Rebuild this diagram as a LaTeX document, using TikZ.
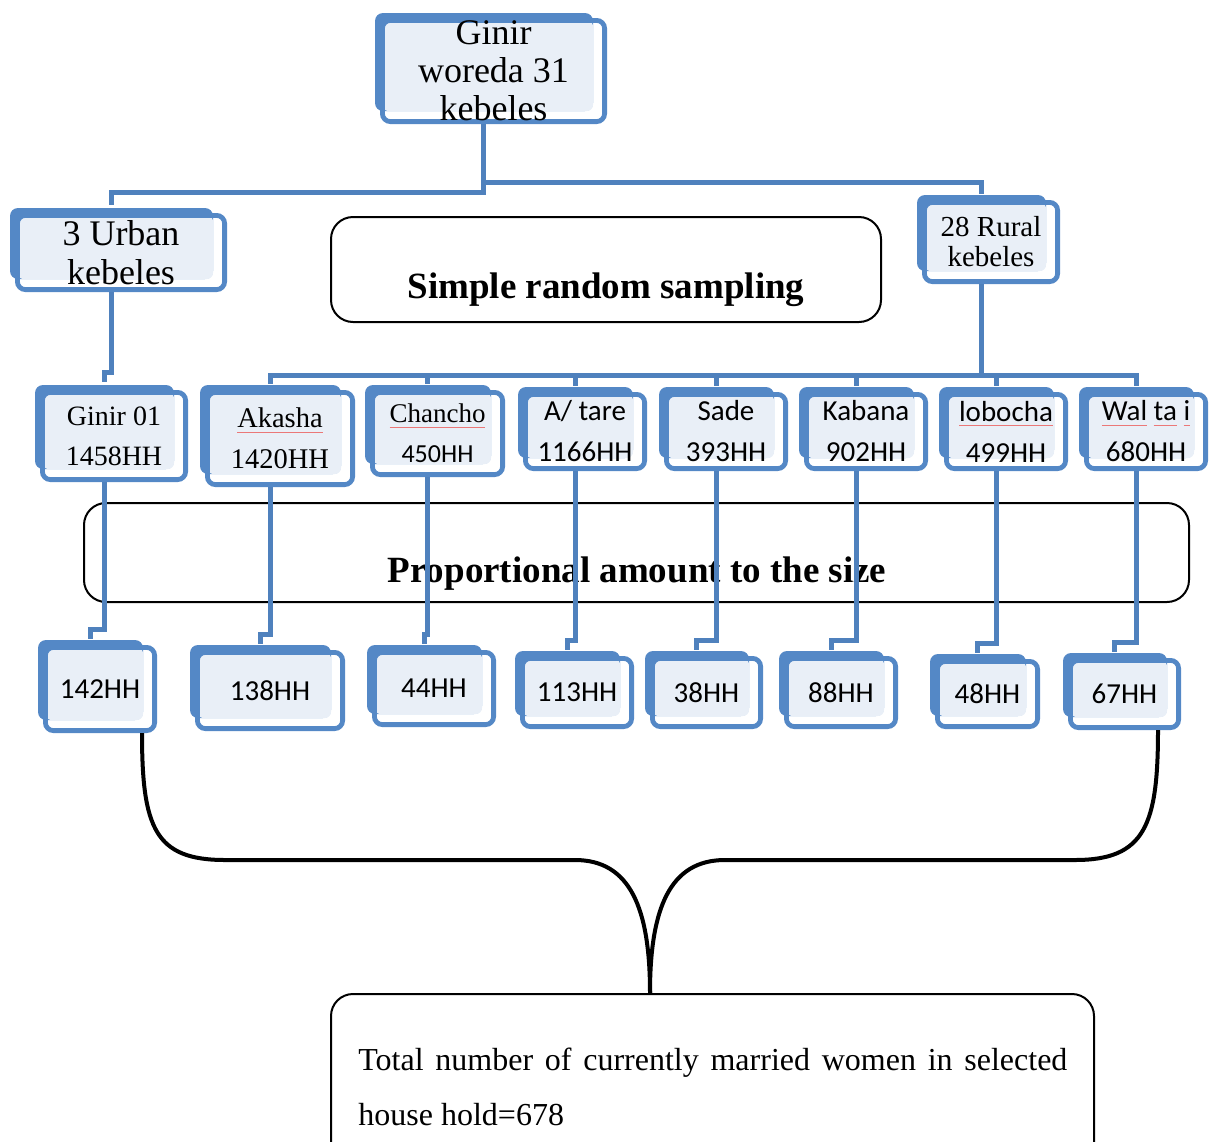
\documentclass[tikz,border=0pt]{standalone}
\usepackage{fontspec}
\setmainfont{Liberation Serif}
\newfontfamily\calibri{Carlito}
\usetikzlibrary{backgrounds}

\definecolor{kbblue}{RGB}{84,136,198}
\definecolor{kbfill}{RGB}{233,239,247}
\definecolor{kbline}{RGB}{79,129,189}
\definecolor{spellred}{RGB}{235,120,120}

\newcommand{\squig}[1]{\sbox0{#1}\rlap{\textcolor{spellred}{\rule[-2.5pt]{\wd0}{0.5pt}}}\usebox0}

\tikzset{
  kebele/.style={draw=kbblue, line width=2.4pt, rounded corners=4pt, inner sep=0pt, align=center},
  hhnum/.style={font=\calibri\fontsize{14.5}{20.5}\selectfont},
  link/.style={draw=kbline, line width=2.5pt},
  note/.style={draw=black, line width=1pt, rounded corners=11pt, inner sep=0pt},
  brace/.style={draw=black, line width=2pt}
}

\begin{document}
\begin{tikzpicture}[x=0.5pt,y=-0.5pt]
\useasboundingbox (0,0) rectangle (1210,1141);
\clip (0,0) rectangle (1210,1141);

\node[kebele, minimum width=111.1pt, minimum height=50.6pt, font=\fontsize{18}{19}\selectfont] (top) at (493.5,71) {Ginir\\woreda 31\\kebeles};
\node[kebele, minimum width=103.6pt, minimum height=37.1pt, font=\fontsize{18}{19.5}\selectfont] (urban) at (121,252.5) {3 Urban\\kebeles};
\node[kebele, minimum width=66.6pt, minimum height=39.6pt, font=\fontsize{14.5}{15}\selectfont] (rural) at (991,242) {28 Rural\\kebeles};

\node[note, minimum width=275pt, minimum height=52.5pt] (srs) at (606,269.5) {};
\node[anchor=base, inner sep=0pt, font=\bfseries\fontsize{18.5}{20}\selectfont] (srslabel) at (606,298) {Simple random sampling};

% kebeles
\node[kebele, minimum width=71.6pt, minimum height=43.6pt, font=\fontsize{14}{20}\selectfont] (g01) at (114,436) {Ginir 01\\1458HH};
\node[kebele, minimum width=72.6pt, minimum height=46.1pt, font=\fontsize{14.25}{20.5}\selectfont] (akasha) at (280,438.5) {\squig{Akasha}\\1420HH};
\node[kebele, minimum width=65.1pt, minimum height=41.1pt, font=\fontsize{13.5}{20}\selectfont] (chancho) at (437.5,433.5) {\squig{Chancho}\\{\calibri\fontsize{13}{20}\selectfont 450HH}};
\node[kebele, hhnum, minimum width=59.6pt, minimum height=37.1pt] (atare) at (585,431.5) {A/ tare\\1166HH};
\node[kebele, hhnum, minimum width=59.6pt, minimum height=37.1pt] (sade) at (726,431.5) {Sade\\393HH};
\node[kebele, hhnum, minimum width=59.6pt, minimum height=37.1pt] (kabana) at (866,431.5) {Kabana\\902HH};
\node[kebele, hhnum, minimum width=59.6pt, minimum height=37.1pt] (lobocha) at (1006,431.5) {\squig{lobocha}\\499HH};
\node[kebele, hhnum, minimum width=59.6pt, minimum height=37.1pt] (waltai) at (1146,431.5) {\squig{Wal} \squig{ta} \squig{i}\\680HH};

\node[note, minimum width=552.5pt, minimum height=49.5pt] (prop) at (636.5,552.5) {};
\node[anchor=base, inner sep=0pt, font=\bfseries\fontsize{18.5}{20}\selectfont] (proplabel) at (637,582) {Proportional amount to the size};

% sample sizes
\node[kebele, hhnum, minimum width=54.6pt, minimum height=41.6pt] (n142) at (100,689) {142HH};
\node[kebele, hhnum, minimum width=72.6pt, minimum height=38.1pt] (n138) at (270,690.5) {138HH};
\node[kebele, hhnum, minimum width=59.6pt, minimum height=36.1pt] (n44) at (434,688.5) {44HH};
\node[kebele, hhnum, minimum width=54.6pt, minimum height=34.1pt] (n113) at (577,692.5) {113HH};
\node[kebele, hhnum, minimum width=54.1pt, minimum height=34.1pt] (n38) at (706.5,692.5) {38HH};
\node[kebele, hhnum, minimum width=54.6pt, minimum height=34.1pt] (n88) at (841,692.5) {88HH};
\node[kebele, hhnum, minimum width=50.1pt, minimum height=32.6pt] (n48) at (987.5,694) {48HH};
\node[kebele, hhnum, minimum width=54.1pt, minimum height=33.6pt] (n67) at (1124.5,694) {67HH};

\node[note, minimum width=381.5pt, minimum height=87.5pt] (total) at (712.5,1081.5) {};
\node[anchor=north west, inner sep=0pt, text width=354.5pt, align=justify, font=\fontsize{16}{27.5}\selectfont] (totaltext) at (358,1048) {Total number of currently married women in selected\linebreak house hold=678};
\coordinate (cusp) at (650,993);

% shaded backs of the blue boxes
\begin{scope}[on background layer]
\foreach \n in {top,urban,rural,g01,akasha,chancho,atare,sade,kabana,lobocha,waltai,n142,n138,n44,n113,n38,n88,n48,n67} {
  \fill[kbblue, rounded corners=4pt] ([xshift=-2.5pt,yshift=2.5pt]\n.north west) rectangle ([xshift=-7pt,yshift=6.5pt]\n.south east);
  \fill[kbfill, rounded corners=3pt] ([xshift=1.2pt,yshift=-1.2pt]\n.north west) rectangle ([xshift=-7pt,yshift=6.5pt]\n.south east);
}
\end{scope}

% tree
\draw[link] ([xshift=-5pt]top.south) -- ++(0,68) -| ([xshift=-5pt,yshift=4pt]urban.north);
\draw[link] ([xshift=-5pt]top.south) ++(0,58) -| ([xshift=-5pt,yshift=3pt]rural.north);
\draw[link] ([xshift=-5pt]urban.south) -- ++(0,80) -| ([xshift=-5pt,yshift=4pt]g01.north);
\foreach \c in {akasha,chancho,atare,sade,kabana,lobocha,waltai}
  \draw[link] ([xshift=-5pt]rural.south) -- ++(0,91) -| ([xshift=-5pt,yshift=3pt]\c.north);
\foreach \a/\b in {g01/n142,akasha/n138,chancho/n44,atare/n113,sade/n38,kabana/n88,lobocha/n48,waltai/n67}
  \draw[link] ([xshift=-5pt]\a.south) |- ([xshift=-5pt,yshift=8pt]\b.north) -- ([xshift=-5pt,yshift=3pt]\b.north);

% brace to the total
\draw[brace] ([xshift=-7.5pt]n142.south east) .. controls +(0,95) and +(-70,0) .. (225,860) -- (575,860) .. controls +(55,0) and +(0,-85) .. (cusp);
\draw[brace] ([xshift=-11.5pt]n67.south east) .. controls +(0,95) and +(70,0) .. (1075,860) -- (725,860) .. controls +(-55,0) and +(0,-85) .. (cusp);
\end{tikzpicture}
\end{document}
